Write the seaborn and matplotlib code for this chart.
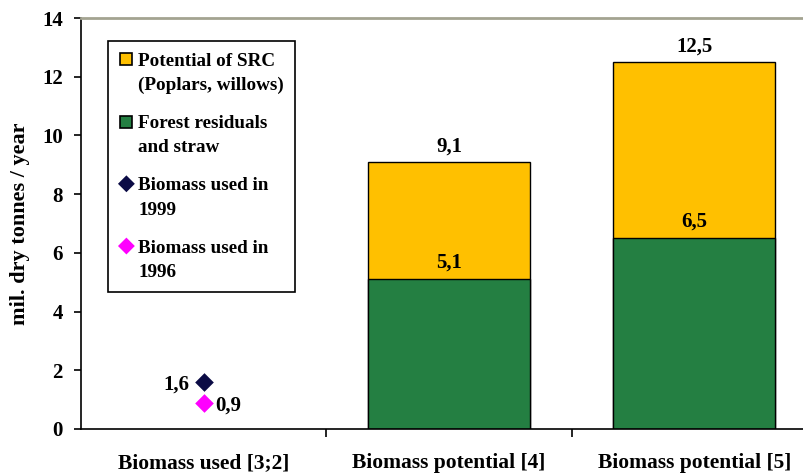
import numpy as np
import pandas as pd
import matplotlib
matplotlib.use("Agg")
import matplotlib.pyplot as plt
import matplotlib.patches as mpatches
import seaborn as sns
from matplotlib.legend_handler import HandlerPatch
from matplotlib.ticker import FixedLocator

# ---- data ----
categories = ["Biomass used [3;2]", "Biomass potential [4]", "Biomass potential [5]"]
forest_residuals = [np.nan, 5.1, 6.5]
src_potential = [np.nan, 4.0, 6.0]
total_labels = [None, "9,1", "12,5"]
forest_labels = [None, "5,1", "6,5"]
used_1999 = [1.6, np.nan, np.nan]
used_1996 = [0.9, np.nan, np.nan]
used_1999_labels = ["1,6", None, None]
used_1996_labels = ["0,9", None, None]
y_ticks = [0, 2, 4, 6, 8, 10, 12, 14]
legend_labels = ["Potential of SRC\n(Poplars, willows)", "Forest residuals\nand straw",
                 "Biomass used in\n1999", "Biomass used in\n1996"]

YELLOW = "#FFC000"
GREEN = "#247F42"
NAVY = "#0B0B45"
MAGENTA = "#FF00FF"

sns.set_theme(style="white")
plt.rcParams["font.family"] = ["Liberation Serif", "DejaVu Serif"]
plt.rcParams["font.weight"] = "bold"
for key in ["text.color", "axes.labelcolor", "xtick.color", "ytick.color"]:
    plt.rcParams[key] = "black"

df = pd.DataFrame({
    "category": categories,
    "forest": forest_residuals,
    "src": src_potential,
})
df["stack_top"] = df["forest"] + df["src"]

fig = plt.figure(figsize=(8.04, 4.74), dpi=100)
ax = fig.add_axes([81 / 804, 45 / 474, 736 / 804, 411 / 474])

sns.barplot(data=df, x="category", y="stack_top", order=categories, color=YELLOW,
            saturation=1, width=0.66, edgecolor="black", linewidth=1,
            errorbar=None, ax=ax)
sns.barplot(data=df, x="category", y="forest", order=categories, color=GREEN,
            saturation=1, width=0.66, edgecolor="black", linewidth=1,
            errorbar=None, ax=ax)
sns.stripplot(x=categories, y=used_1999, order=categories, jitter=False, marker="D",
              color=NAVY, size=9.5, linewidth=0, ax=ax, zorder=5)
sns.stripplot(x=categories, y=used_1996, order=categories, jitter=False, marker="D",
              color=MAGENTA, size=9.5, linewidth=0, ax=ax, zorder=5)

ax.set_xlim(-0.5, 2.5)
ax.set_ylim(0, 14)

VAL_FS = 15
for i, cat in enumerate(categories):
    if total_labels[i]:
        ax.annotate(total_labels[i], xy=(i, df["stack_top"][i]), xytext=(0, 4),
                    textcoords="offset points", ha="center", va="bottom",
                    fontsize=VAL_FS, fontweight="bold")
    if forest_labels[i]:
        ax.annotate(forest_labels[i], xy=(i, forest_residuals[i]), xytext=(0, 5),
                    textcoords="offset points", ha="center", va="bottom",
                    fontsize=VAL_FS, fontweight="bold")
    if used_1999_labels[i]:
        ax.annotate(used_1999_labels[i], xy=(i, used_1999[i]), xytext=(-10, -2),
                    textcoords="offset points", ha="right", va="center",
                    fontsize=VAL_FS, fontweight="bold")
    if used_1996_labels[i]:
        ax.annotate(used_1996_labels[i], xy=(i, used_1996[i]), xytext=(8, -2),
                    textcoords="offset points", ha="left", va="center",
                    fontsize=VAL_FS, fontweight="bold")

# axes styling
ax.set_yticks(y_ticks)
ax.set_yticklabels([str(t) for t in y_ticks], fontsize=15, fontweight="bold")
ax.tick_params(axis="y", direction="out", length=5, width=1.2, left=True, pad=8)
ax.set_xticks(range(len(categories)))
ax.set_xticklabels(categories, fontsize=15.5, fontweight="bold")
ax.tick_params(axis="x", which="major", length=0, pad=17)
ax.xaxis.set_minor_locator(FixedLocator([0.5, 1.5]))
ax.tick_params(axis="x", which="minor", direction="out", length=6, width=1.2,
               bottom=True)
ax.set_xlabel("")
ax.set_ylabel("mil. dry tonnes / year", fontsize=16, fontweight="bold", labelpad=9)

for side in ["left", "bottom"]:
    ax.spines[side].set_color("black")
    ax.spines[side].set_linewidth(1.2)
ax.spines["top"].set_color("#A3A391")
ax.spines["top"].set_linewidth(2)
ax.spines["right"].set_visible(False)

# legend: handles aligned with the first line of each two-line label
LEG_FS = 13.8


def square_top(legend, orig_handle, xdescent, ydescent, width, height, fontsize):
    s = 0.62 * fontsize
    cy = 1.08 * fontsize
    return mpatches.Rectangle((-xdescent + 0.05 * fontsize, cy - s / 2), s, s)


def diamond_top(legend, orig_handle, xdescent, ydescent, width, height, fontsize):
    r = 0.44 * fontsize
    cy = 1.08 * fontsize
    return mpatches.RegularPolygon((-xdescent + 0.36 * fontsize, cy), 4, radius=r,
                                   orientation=0)


handles = [
    mpatches.Patch(facecolor=YELLOW, edgecolor="black", linewidth=1.2),
    mpatches.Patch(facecolor=GREEN, edgecolor="black", linewidth=1.2),
    mpatches.Patch(facecolor=NAVY, edgecolor="none"),
    mpatches.Patch(facecolor=MAGENTA, edgecolor="none"),
]
hmap = {
    handles[0]: HandlerPatch(patch_func=square_top),
    handles[1]: HandlerPatch(patch_func=square_top),
    handles[2]: HandlerPatch(patch_func=diamond_top),
    handles[3]: HandlerPatch(patch_func=diamond_top),
}
leg = ax.legend(handles, legend_labels, handler_map=hmap, loc="upper left",
                bbox_to_anchor=(27 / 736, (429 - 41) / 411), borderaxespad=0,
                fancybox=False, frameon=True, edgecolor="black", framealpha=1,
                prop={"size": LEG_FS, "weight": "bold"}, labelspacing=1.1,
                handlelength=0.72, handleheight=0.7, handletextpad=0.25,
                borderpad=0.6)
for t in leg.get_texts():
    t.set_linespacing(1.55)
leg.get_frame().set_linewidth(1.2)

fig.savefig("out.png", dpi=100)
